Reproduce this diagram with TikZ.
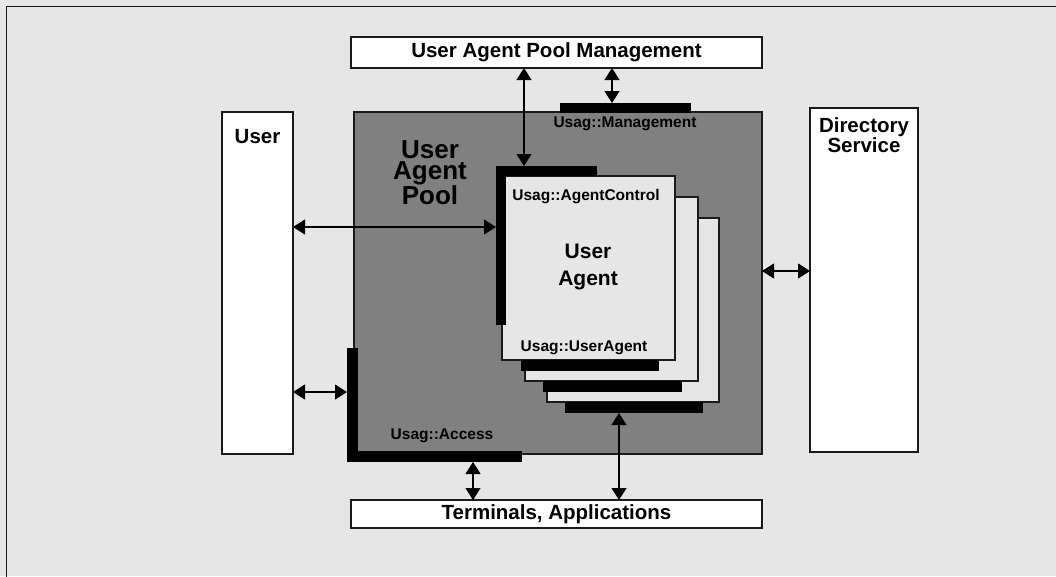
\documentclass[tikz,border=0pt]{standalone}
\usepackage{fontspec}
\setmainfont{Liberation Sans}
\usetikzlibrary{arrows.meta}
\definecolor{bg}{HTML}{E6E6E6}
\definecolor{poolgray}{HTML}{808080}
\definecolor{edge}{HTML}{1A1A1A}

\begin{document}
\begin{tikzpicture}[x=1pt,y=-1pt,
  box/.style={draw=edge, line width=1.3pt, inner sep=0pt, outer sep=0pt},
  whitebox/.style={box, fill=white},
  card/.style={box, fill=bg},
  bar/.style={fill=black, draw=none, inner sep=0pt, outer sep=0pt},
  biarrow/.style={line width=1.2pt,
    {Triangle[length=12pt,width=15pt]}-{Triangle[length=12pt,width=15pt]}},
  title/.style={font=\bfseries\fontsize{20.5}{24}\selectfont, align=center, inner sep=0pt},
  tag/.style={font=\bfseries\fontsize{15.5}{18}\selectfont, inner sep=0pt},
]
\useasboundingbox (0,0) rectangle (1056,576);
\clip (0,0) rectangle (1056,576);
\fill[bg] (0,0) rectangle (1056,576);
\draw[edge, line width=1.5pt] (6.5,600) -- (6.5,6.5) -- (1080,6.5);

% outer boxes
\node[whitebox, minimum width=411, minimum height=31] (uapm) at (556.5,52.5)
  {\fontsize{20.5}{24}\bfseries\selectfont User Agent Pool Management};
\node[whitebox, minimum width=411, minimum height=28] (term) at (556.5,514)
  {\fontsize{20.5}{24}\bfseries\selectfont Terminals, Applications};
\node[whitebox, minimum width=71, minimum height=342] (user) at (257.5,283) {};
\node[whitebox, minimum width=108, minimum height=344] (dir) at (864,280) {};
\node[title] at ([yshift=-25]user.north) {User};
\node[title, font=\bfseries\fontsize{20.5}{20}\selectfont] at ([yshift=-27]dir.north) {Directory\\Service};

% the pool
\node[box, fill=poolgray, minimum width=408, minimum height=342] (pool) at (558,283) {};
\node[title, font=\bfseries\fontsize{26}{21}\selectfont] at (430,173) {User\\Agent\\Pool};

% stacked agent cards, back to front, each with its interface bar
\node[card, minimum width=172, minimum height=184] (card3) at (633,310) {};
\node[bar, minimum width=138, minimum height=11] (bar3) at (634,407.5) {};
\node[card, minimum width=173, minimum height=184] (card2) at (611.5,289) {};
\node[bar, minimum width=139, minimum height=11] (bar2) at (612.5,386.5) {};
\node[card, minimum width=173, minimum height=184] (card1) at (588.5,268) {};
\node[bar, minimum width=138, minimum height=11] (bar1) at (590,365.5) {};

% agent control interface (L shape)
\node[bar, minimum width=101, minimum height=10] (acH) at (546.5,171) {};
\node[bar, minimum width=10, minimum height=159] (acV) at (501,245.5) {};

% access interface (L shape)
\node[bar, minimum width=11, minimum height=114] (accV) at (352.5,405) {};
\node[bar, minimum width=175, minimum height=11] (accH) at (434.5,456.5) {};

% management interface
\node[bar, minimum width=131, minimum height=10] (mgmt) at (625.5,108) {};

% interface names
\node[tag] at (625,124) {Usag::Management};
\node[tag] at (586,197) {Usag::AgentControl};
\node[tag] at (584,348) {Usag::UserAgent};
\node[tag] at (442,436) {Usag::Access};
\node[title, font=\bfseries\fontsize{21}{27}\selectfont] at (588,266.5) {User\\Agent};

% connectors
\draw[biarrow] ([xshift=-22.5pt]acH.north) -- ([xshift=-22.5pt]acH.north |- uapm.south);
\draw[biarrow] ([xshift=-13.5pt]mgmt.north) -- ([xshift=-13.5pt]mgmt.north |- uapm.south);
\draw[biarrow] ([yshift=18.5pt]acV.west) -- ([yshift=18.5pt]acV.west -| user.east);
\draw[biarrow] ([yshift=13pt]accV.west) -- ([yshift=13pt]accV.west -| user.east);
\draw[biarrow] ([yshift=12pt]pool.east) -- ([yshift=12pt]pool.east -| dir.west);
\draw[biarrow] ([xshift=38.5pt]accH.south) -- ([xshift=38.5pt]accH.south |- term.north);
\draw[biarrow] ([xshift=-15pt]bar3.south) -- ([xshift=-15pt]bar3.south |- term.north);
\end{tikzpicture}
\end{document}
